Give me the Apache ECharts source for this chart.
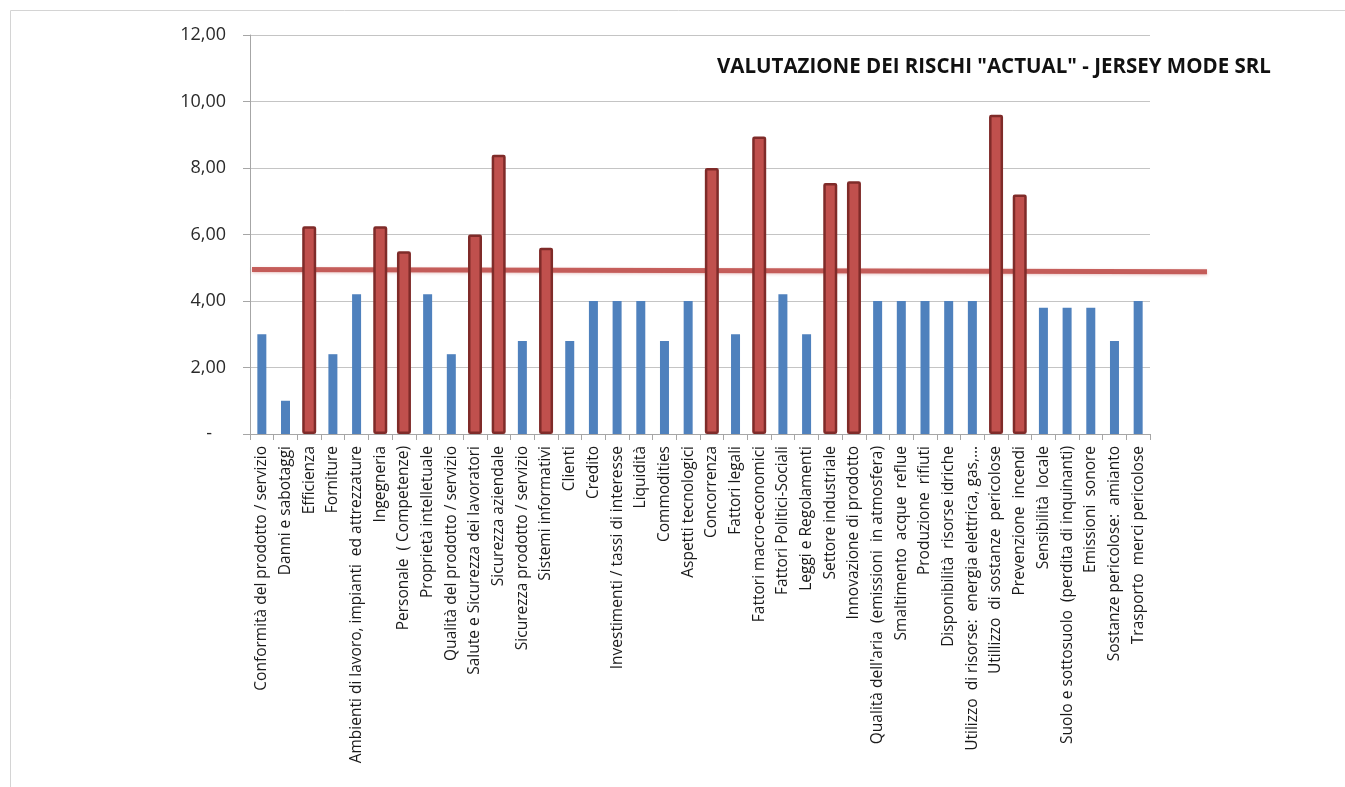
<!DOCTYPE html>
<html lang="it">
<head>
<meta charset="UTF-8">
<title>Valutazione dei rischi</title>
<style>
  html, body { margin: 0; padding: 0; background: #fff; }
  #chart { width: 1345px; height: 787px; }
</style>
<script src="https://cdn.jsdelivr.net/npm/echarts@6/dist/echarts.min.js"></script>
</head>
<body>
<div id="chart"></div>
<script>
// categorie di rischio
var categories = [
  'Conformità del prodotto / servizio', 'Danni e sabotaggi', 'Efficienza', 'Forniture',
  'Ambienti di lavoro, impianti  ed attrezzature', 'Ingegneria', 'Personale  ( Competenze)',
  'Proprietà intelletuale', 'Qualità del prodotto / servizio', 'Salute e Sicurezza dei lavoratori',
  'Sicurezza aziendale', 'Sicurezza prodotto / servizio', 'Sistemi informativi', 'Clienti',
  'Credito', 'Investimenti / tassi di interesse', 'Liquidità', 'Commodities',
  'Aspetti tecnologici', 'Concorrenza', 'Fattori legali', 'Fattori macro-economici',
  'Fattori Politici-Sociali', 'Leggi e Regolamenti', 'Settore industriale',
  'Innovazione di prodotto', "Qualità dell'aria  (emissioni  in atmosfera)",
  'Smaltimento  acque  reflue', 'Produzione  rifiuti', 'Disponibilità  risorse idriche',
  'Utilizzo  di risorse:  energia elettrica, gas,…', 'Utillizzo  di sostanze  pericolose',
  'Prevenzione  incendi', 'Sensibilità  locale', 'Suolo e sottosuolo  (perdita di inquinanti)',
  'Emissioni  sonore', 'Sostanze pericolose:  amianto', 'Trasporto  merci pericolose'
];

// valori di rischio
var riskValues = [
  3.0, 1.0, 6.25, 2.4, 4.2, 6.25, 5.5, 4.2, 2.4, 6.0,
  8.4, 2.8, 5.6, 2.8, 4.0, 4.0, 4.0, 2.8, 4.0, 8.0,
  3.0, 8.95, 4.2, 3.0, 7.55, 7.6, 4.0, 4.0, 4.0, 4.0,
  4.0, 9.6, 7.2, 3.8, 3.8, 3.8, 2.8, 4.0
];

// rischi sopra soglia (barre rosse)
var critical = [
  false, false, true, false, false, true, true, false, false, true,
  true, false, true, false, false, false, false, false, false, true,
  false, true, false, false, true, true, false, false, false, false,
  false, true, true, false, false, false, false, false
];

// linea di soglia (inizio, fine)
var thresholdLine = [4.95, 4.88];

var yTicks = [0, 2, 4, 6, 8, 10, 12];

var blueData = riskValues.map(function (v, i) { return critical[i] ? '-' : v; });
var redData = riskValues.map(function (v, i) { return critical[i] ? v : '-'; });
var lineData = thresholdLine.map(function (v, i) { return [i, v]; });

var font = 'Open Sans';
var chart = echarts.init(document.getElementById('chart'));

chart.setOption({
  animation: false,
  textStyle: { fontFamily: font },
  title: {
    text: 'VALUTAZIONE DEI RISCHI "ACTUAL" - JERSEY MODE SRL',
    left: 712,
    top: 52,
    textStyle: { fontFamily: font, fontSize: 20.5, fontWeight: 'bold', color: '#111' }
  },
  graphic: [{
    type: 'rect',
    shape: { x: 10.5, y: 10.5, width: 1400, height: 800 },
    style: { fill: 'none', stroke: '#d4d4d4', lineWidth: 1 },
    silent: true
  }],
  grid: [
    { left: 250, right: 195, top: 35, bottom: 353 },
    { left: 252, right: 138, top: 35, bottom: 353 }
  ],
  xAxis: [
    {
      type: 'category',
      gridIndex: 0,
      data: categories,
      axisLine: { lineStyle: { color: '#a6a6a6' } },
      axisTick: { show: true, length: 6, lineStyle: { color: '#a6a6a6' } },
      axisLabel: {
        interval: 0, rotate: 90, margin: 12,
        fontFamily: font, fontSize: 15.5, color: '#1a1a1a'
      }
    },
    { type: 'category', gridIndex: 0, data: categories, show: false },
    { type: 'value', gridIndex: 1, min: 0, max: 1, show: false }
  ],
  yAxis: [
    {
      type: 'value',
      gridIndex: 0,
      min: 0, max: 12, interval: 2,
      axisLine: { show: true, lineStyle: { color: '#a6a6a6' } },
      axisTick: { show: true, length: 7, lineStyle: { color: '#a6a6a6' } },
      splitLine: { lineStyle: { color: '#c4c4c4' } },
      axisLabel: {
        margin: 24, fontFamily: font, fontSize: 18, color: '#2a2a2a',
        formatter: function (v) {
          if (yTicks.indexOf(v) < 0) return '';
          return v === 0 ? '-   ' : v.toFixed(2).replace('.', ',');
        }
      }
    },
    { type: 'value', gridIndex: 1, min: 0, max: 12, show: false }
  ],
  series: [
    {
      name: 'soglia',
      type: 'line',
      xAxisIndex: 2, yAxisIndex: 1,
      data: lineData,
      symbol: 'none',
      z: 1,
      lineStyle: {
        color: '#c0504d', width: 5, opacity: 0.9,
        shadowColor: 'rgba(192,80,77,0.35)', shadowBlur: 3, shadowOffsetY: 1
      }
    },
    {
      name: 'rischio',
      type: 'bar',
      xAxisIndex: 0, yAxisIndex: 0,
      data: blueData,
      barWidth: 9,
      z: 3,
      itemStyle: { color: '#4f81bd' }
    },
    {
      name: 'rischio critico',
      type: 'bar',
      xAxisIndex: 1, yAxisIndex: 0,
      data: redData,
      barWidth: 14,
      z: 3,
      itemStyle: { color: '#c0504d', borderColor: '#7f2b29', borderWidth: 2.5, borderRadius: 1 }
    }
  ]
});
</script>
</body>
</html>
